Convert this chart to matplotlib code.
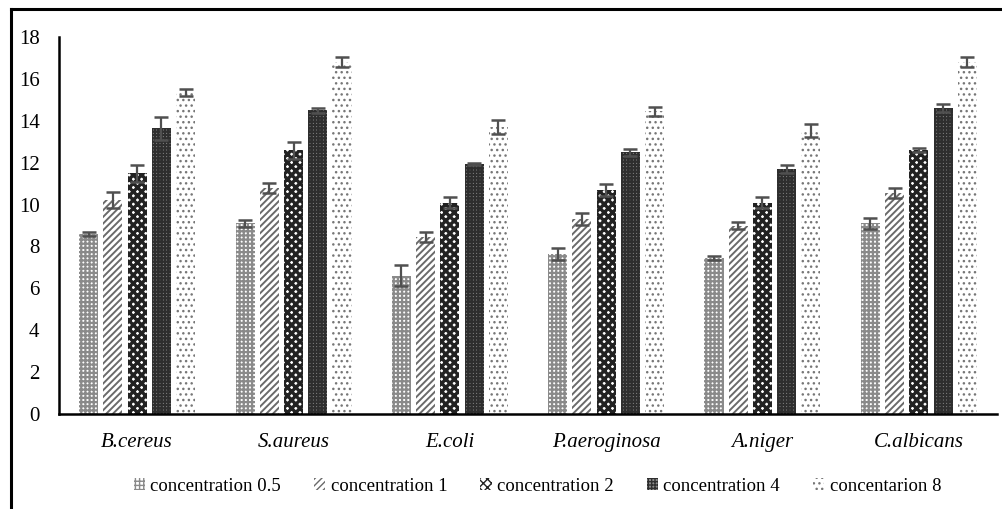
import numpy as np
import matplotlib
matplotlib.use("Agg")
import matplotlib.pyplot as plt
from matplotlib.lines import Line2D

plt.rcParams['font.family'] = ['Liberation Serif', 'DejaVu Serif']

organisms = ["B.cereus", "S.aureus", "E.coli", "P.aeroginosa", "A.niger", "C.albicans"]
series_names = ["concentration 0.5", "concentration 1", "concentration 2",
                "concentration 4", "concentarion 8"]

# inhibition values per concentration (one entry per organism)
conc_05 = [8.6, 9.1, 6.6, 7.65, 7.45, 9.1]
conc_1 = [10.2, 10.8, 8.45, 9.3, 9.0, 10.55]
conc_2 = [11.5, 12.6, 10.1, 10.7, 10.1, 12.6]
conc_4 = [13.65, 14.5, 11.95, 12.5, 11.7, 14.6]
conc_8 = [15.35, 16.8, 13.7, 14.45, 13.55, 16.8]

err_05 = [0.08, 0.16, 0.5, 0.28, 0.1, 0.28]
err_1 = [0.38, 0.25, 0.22, 0.28, 0.16, 0.22]
err_2 = [0.4, 0.4, 0.24, 0.3, 0.28, 0.1]
err_4 = [0.55, 0.12, 0.06, 0.16, 0.18, 0.2]
err_8 = [0.15, 0.25, 0.33, 0.2, 0.3, 0.25]

values = [conc_05, conc_1, conc_2, conc_4, conc_8]
errors = [err_05, err_1, err_2, err_4, err_8]

# (facecolor, hatch colour, hatch, hatch linewidth)
styles = [
    ("white", "#8a8a8a", "++++", 1.6),
    ("white", "#6a6a6a", "/////", 1.4),
    ("white", "#222222", "xxxx", 2.4),
    ("#8c8c8c", "#2e2e2e", "+++++", 1.6),
    ("white", "#777777", "...", 1.0),
]

fig = plt.figure(figsize=(10.02, 5.09), dpi=100)
ax = fig.add_axes([0.0589, 0.1866, 0.9361, 0.7406])

x = np.arange(len(organisms))
step = 0.155
width = 0.122

for i, (vals, errs) in enumerate(zip(values, errors)):
    face, hcol, hatch, hlw = styles[i]
    with plt.rc_context({'hatch.linewidth': hlw}):
        ax.bar(x + (i - 2) * step, vals, width, yerr=errs,
               color=face, edgecolor=hcol, linewidth=0, hatch=hatch,
               label=series_names[i],
               error_kw=dict(ecolor="#505050", elinewidth=1.6, capsize=5, capthick=1.8))

ax.set_xlim(-0.5, len(organisms) - 0.5)
ax.set_ylim(0, 18)
ax.set_yticks(range(0, 19, 2))
ax.set_xticks(x)
ax.set_xticklabels(organisms, fontstyle="italic", fontsize=15)
ax.tick_params(axis="y", labelsize=15, length=0, pad=14)
ax.tick_params(axis="x", length=0, pad=14)

for side in ["top", "right"]:
    ax.spines[side].set_visible(False)
ax.spines["left"].set_linewidth(1.8)
ax.spines["bottom"].set_linewidth(1.8)

ax.legend(loc="upper center", bbox_to_anchor=(0.51, -0.125), ncol=5, frameon=False,
          fontsize=13.5, handlelength=0.6, handleheight=0.6, handletextpad=0.3,
          columnspacing=1.75)

# outer frame of the exported chart
fig.add_artist(Line2D([0.011, 0.011], [0, 0.983], color="black", lw=2.2,
                      transform=fig.transFigure))
fig.add_artist(Line2D([0.011, 1.0], [0.983, 0.983], color="black", lw=2.2,
                      transform=fig.transFigure))

fig.savefig("out.png", dpi=100)
